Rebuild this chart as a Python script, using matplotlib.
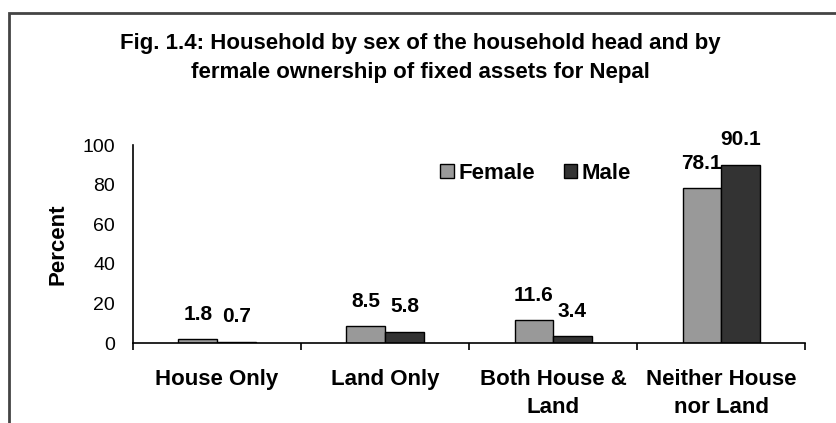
import matplotlib.pyplot as plt
import numpy as np
from matplotlib.patches import Rectangle

# --- Daten ---
categories = ["House Only", "Land Only", "Both House &\nLand", "Neither House\nnor Land"]
female = [1.8, 8.5, 11.6, 78.1]
male = [0.7, 5.8, 3.4, 90.1]

plt.rcParams["font.family"] = ["Liberation Sans", "DejaVu Sans"]

fig = plt.figure(figsize=(8.37, 4.23), dpi=100)
ax = fig.add_axes([0.159, 0.189, 0.803, 0.468])

x = np.arange(len(categories))
w = 0.23
b1 = ax.bar(x - w / 2, female, w, color="#999999", edgecolor="black", linewidth=1, label="Female")
b2 = ax.bar(x + w / 2, male, w, color="#333333", edgecolor="black", linewidth=1, label="Male")

# Werte über den Balken
for bars, vals in [(b1, female), (b2, male)]:
    for r, v in zip(bars, vals):
        ax.annotate(f"{v:.1f}", (r.get_x() + r.get_width() / 2, v), xytext=(0, 18),
                    textcoords="offset points", ha="center", va="center",
                    fontsize=15, fontweight="bold")

ax.set_ylim(0, 100)
ax.set_xlim(-0.5, len(categories) - 0.5)
ax.set_yticks(range(0, 101, 20))
ax.tick_params(axis="y", length=0, labelsize=14, pad=13)
ax.set_xticks(x)
ax.set_xticklabels(categories, fontsize=16, fontweight="bold", linespacing=1.4)
ax.tick_params(axis="x", length=0, pad=19)
ax.set_xticks(np.arange(len(categories) + 1) - 0.5, minor=True)
ax.tick_params(axis="x", which="minor", length=5, direction="out", width=1.2)

for s in ["top", "right"]:
    ax.spines[s].set_visible(False)
for s in ["left", "bottom"]:
    ax.spines[s].set_linewidth(1.2)

ax.set_ylabel("Percent", fontsize=16, fontweight="bold", labelpad=10)

ax.legend(loc="center left", bbox_to_anchor=(0.457, 0.859), ncol=2, frameon=False,
          prop={"weight": "bold", "size": 16}, handlelength=0.6, handleheight=0.6,
          handletextpad=0.2, columnspacing=1.3, borderpad=0, borderaxespad=0)

fig.text(0.502, 0.863, "Fig. 1.4: Household by sex of the household head and by\nfermale ownership of fixed assets for Nepal",
         ha="center", va="center", fontsize=16, fontweight="bold", linespacing=1.45)

# Rahmen
fig.patches.append(Rectangle((9 / 837, -0.1), 1.2, 1.1 - 13 / 423,
                             transform=fig.transFigure, fill=False,
                             edgecolor="#444444", linewidth=2))

plt.savefig("out.png", dpi=100)
